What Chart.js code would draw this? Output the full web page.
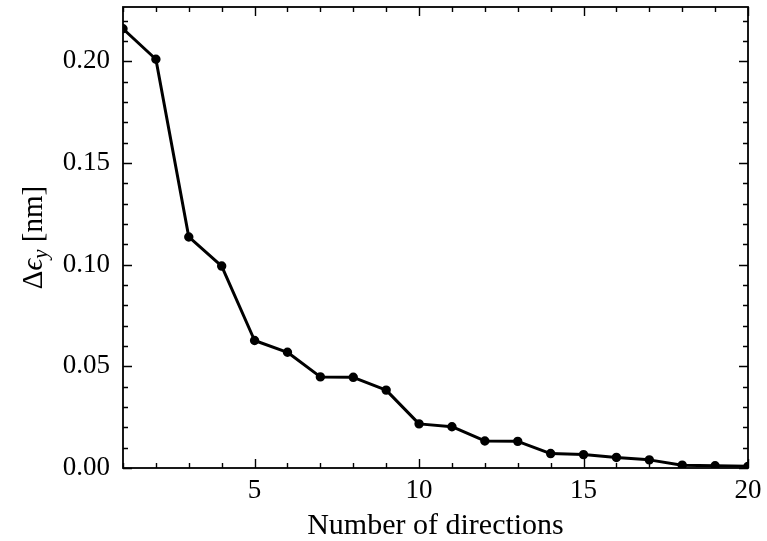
<!DOCTYPE html>
<html>
<head>
    <title>Δε_y vs number of directions</title>
    <script src="https://cdn.jsdelivr.net/npm/chart.js"></script>
    <style>
        html, body { margin: 0; padding: 0; background: #fff; }
        #wrap { width: 767px; height: 541px; position: relative; }
    </style>
</head>
<body>
    <div id="wrap"><canvas id="chart" width="767" height="541"></canvas></div>

    <script>
        // 数据
        const directions = [1, 2, 3, 4, 5, 6, 7, 8, 9, 10, 11, 12, 13, 14, 15, 16, 17, 18, 19, 20];
        const deltaEps = [0.216, 0.201, 0.1136, 0.0993, 0.0627, 0.0569, 0.0448, 0.0446, 0.0383, 0.0217,
                          0.0203, 0.0133, 0.0131, 0.0071, 0.0066, 0.0052, 0.0040, 0.0014, 0.0011, 0.0008];
        const xMajor = [5, 10, 15, 20];
        const yMajor = [0, 0.05, 0.10, 0.15, 0.20];
        const xMinorStep = 1;
        const yMinorStep = 0.01;

        const FONT = "'Liberation Serif', 'DejaVu Serif', serif";

        // 四边向内的刻度和边框
        const frameTicks = {
            id: 'frameTicks',
            afterDraw(chart) {
                const c = chart.ctx, a = chart.chartArea;
                const xs = chart.scales.x, ys = chart.scales.y;
                c.save();
                c.strokeStyle = '#000';
                c.lineWidth = 1.4;
                c.beginPath();
                for (let v = xs.min; v <= xs.max + 1e-9; v += xMinorStep) {
                    const px = Math.round(xs.getPixelForValue(v)) + 0.5;
                    const len = xMajor.includes(v) ? 9 : 5;
                    c.moveTo(px, a.bottom); c.lineTo(px, a.bottom - len);
                    c.moveTo(px, a.top); c.lineTo(px, a.top + len);
                }
                for (let i = 0; i * yMinorStep <= ys.max + 1e-9; i++) {
                    const v = i * yMinorStep;
                    const py = Math.round(ys.getPixelForValue(v)) + 0.5;
                    const len = (i % 5 === 0) ? 9 : 5;
                    c.moveTo(a.left, py); c.lineTo(a.left + len, py);
                    c.moveTo(a.right, py); c.lineTo(a.right - len, py);
                }
                c.stroke();
                c.lineWidth = 1.8;
                c.strokeRect(a.left, a.top, a.right - a.left, a.bottom - a.top);

                // y 轴标题: Δϵ_y [nm]
                c.translate(35, (a.top + a.bottom) / 2);
                c.rotate(-Math.PI / 2);
                c.fillStyle = '#000';
                c.textBaseline = 'alphabetic';
                const parts = [
                    { t: 'Δ', f: '29px ' + FONT, dy: 0 },
                    { t: 'ϵ', f: 'italic 29px ' + FONT, dy: 0 },
                    { t: 'y', f: 'italic 21px ' + FONT, dy: 5 },
                    { t: ' [nm]', f: '29px ' + FONT, dy: 0 }
                ];
                let w = 0;
                parts.forEach(p => { c.font = p.f; w += c.measureText(p.t).width; });
                let x0 = -w / 2;
                parts.forEach(p => {
                    c.font = p.f;
                    c.fillText(p.t, x0, 7 + p.dy);
                    x0 += c.measureText(p.t).width;
                });
                c.restore();
            }
        };

        const chart = new Chart(document.getElementById('chart'), {
            type: 'line',
            data: {
                datasets: [{
                    data: directions.map((d, i) => ({ x: d, y: deltaEps[i] })),
                    borderColor: '#000',
                    backgroundColor: '#000',
                    borderWidth: 3,
                    pointRadius: 3.2,
                    pointHoverRadius: 3.2,
                    borderJoinStyle: 'round',
                    tension: 0
                }]
            },
            options: {
                responsive: false,
                animation: false,
                layout: { padding: { left: 0, right: 19, top: 7, bottom: 0 } },
                plugins: { legend: { display: false }, tooltip: { enabled: false } },
                scales: {
                    x: {
                        type: 'linear',
                        min: 1, max: 20,
                        afterBuildTicks: s => { s.ticks = xMajor.map(v => ({ value: v })); },
                        afterFit: s => { s.height = 73; s.paddingLeft = 0; s.paddingRight = 0; },
                        grid: { display: false, drawTicks: false },
                        border: { display: false },
                        ticks: {
                            color: '#000', padding: 7,
                            font: { family: FONT, size: 27 },
                            maxRotation: 0
                        },
                        title: {
                            display: true, text: 'Number of directions', color: '#000',
                            font: { family: FONT, size: 30 }, padding: { top: 0, bottom: -3 }
                        }
                    },
                    y: {
                        type: 'linear',
                        min: 0, max: 0.2267,
                        afterBuildTicks: s => { s.ticks = yMajor.map(v => ({ value: v })); },
                        afterFit: s => { s.width = 123; s.paddingTop = 0; s.paddingBottom = 0; },
                        grid: { display: false, drawTicks: false },
                        border: { display: false },
                        ticks: {
                            color: '#000', padding: 13,
                            font: { family: FONT, size: 27 },
                            callback: v => v.toFixed(2)
                        }
                    }
                }
            },
            plugins: [frameTicks]
        });
    </script>
</body>
</html>
